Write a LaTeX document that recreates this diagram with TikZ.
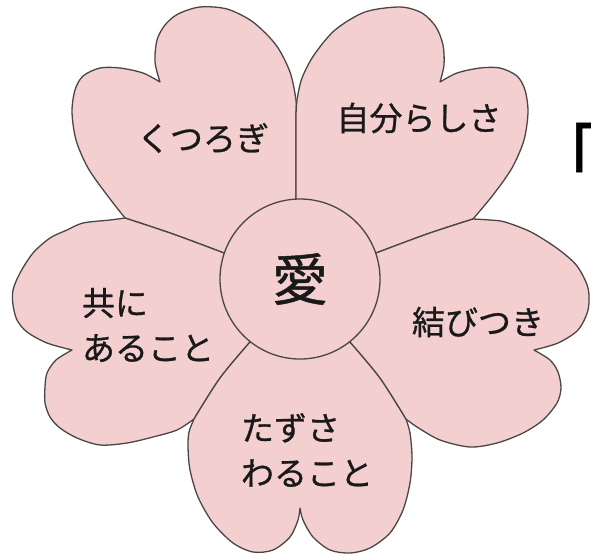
\documentclass[tikz,border=0pt]{standalone}
\usepackage{fontspec}
\newfontfamily\jp[FakeBold=0.8]{Noto Sans CJK JP}
\definecolor{petal}{RGB}{243,207,207}
\definecolor{edge}{RGB}{75,70,70}
\definecolor{ink}{RGB}{25,25,25}
\begin{document}
\begin{tikzpicture}[x=1pt,y=-1pt,
  petalshape/.style={fill=petal,draw=edge,line width=1.3pt,line join=round},
  lbl/.style={font=\jp\fontsize{33}{45}\selectfont,inner sep=0pt,text=ink,align=left}]
\useasboundingbox (0,0) rectangle (591,558);
% top-left petal
\path[petalshape] (300,279) -- (296,200) -- (296,115)
  -- plot[smooth] coordinates {(296,115) (296,100) (290,72) (276,45) (253,22) (227,9) (200,7) (178,14) (165,25) (157,40) (155,62) (160,82)}
  -- plot[smooth] coordinates {(160,82) (143,73) (120,68) (100,68) (83,76) (75,90) (72,112) (76,140) (88,168) (107,195) (125,218)}
  -- plot[smooth] coordinates {(125,218) (173,234) (224,253)} -- cycle;
% top-right petal
\path[petalshape] (300,279) -- (296,200) -- (296,115)
  -- plot[smooth] coordinates {(296,115) (297,100) (302,78) (314,55) (335,30) (365,12) (400,7) (422,13) (436,27) (443,45) (444,65) (440,82)}
  -- plot[smooth] coordinates {(440,82) (457,73) (480,68) (500,68) (517,76) (525,90) (528,112) (524,140) (512,168) (493,195) (473,219)}
  -- plot[smooth] coordinates {(473,219) (427,234) (376,253)} -- cycle;
% left petal
\path[petalshape] (300,279) -- (224,253)
  -- plot[smooth] coordinates {(224,253) (173,234) (125,218)}
  -- plot[smooth] coordinates {(125,218) (110,220) (83,223) (67,230) (50,238) (33,253) (20,273) (13,290) (13,305) (17,320) (27,332) (47,343) (72,350)}
  -- plot[smooth] coordinates {(72,350) (56,360) (47,373) (45,387) (45,403) (50,417) (60,428) (77,438) (100,445) (127,443) (153,437) (177,430) (194,419)}
  -- plot[smooth] coordinates {(194,419) (220,378) (250,342)} -- cycle;
% bottom petal
\path[petalshape] (300,279) -- (250,342)
  -- plot[smooth] coordinates {(250,342) (220,378) (194,419)}
  -- plot[smooth] coordinates {(194,419) (189,432) (188,447) (190,470) (198,497) (213,523) (233,543) (253,552) (273,550) (290,537) (298,520) (300,508)}
  -- plot[smooth] coordinates {(300,508) (303,520) (313,537) (330,550) (350,553) (370,548) (390,533) (403,510) (410,483) (412,457) (410,433) (406,419)}
  -- plot[smooth] coordinates {(406,419) (380,378) (350,342)} -- cycle;
% right petal
\path[petalshape] (300,279) -- (376,253)
  -- plot[smooth] coordinates {(376,253) (427,234) (473,219)}
  -- plot[smooth] coordinates {(473,219) (490,220) (505,222) (531,232) (558,249) (577,266) (588,288) (588,310) (578,330) (558,343) (534,350)}
  -- plot[smooth] coordinates {(534,350) (550,360) (558,372) (561,388) (557,403) (543,420) (523,433) (497,443) (470,447) (440,440) (417,427) (406,419)}
  -- plot[smooth] coordinates {(406,419) (380,378) (350,342)} -- cycle;
% centre
\node[circle,fill=petal,draw=edge,line width=1.3pt,minimum size=160pt,inner sep=0pt,
  font=\jp\fontsize{56}{56}\selectfont,text=ink] (ai) at (300,279) {愛};
\node[lbl] (kutsurogi) at (203,138) {くつろぎ};
\node[lbl] (jibun) at (419,118) {自分らしさ};
\node[lbl] (musubi) at (478,322) {結びつき};
\node[lbl] (tomo) at (148,325) {共に\\あること};
\node[lbl] (tazusa) at (307,450) {たずさ\\わること};
\node[font=\jp\fontsize{76}{76}\selectfont,inner sep=0pt,text=black] (kakko) at (565,155) {「};
\end{tikzpicture}
\end{document}
